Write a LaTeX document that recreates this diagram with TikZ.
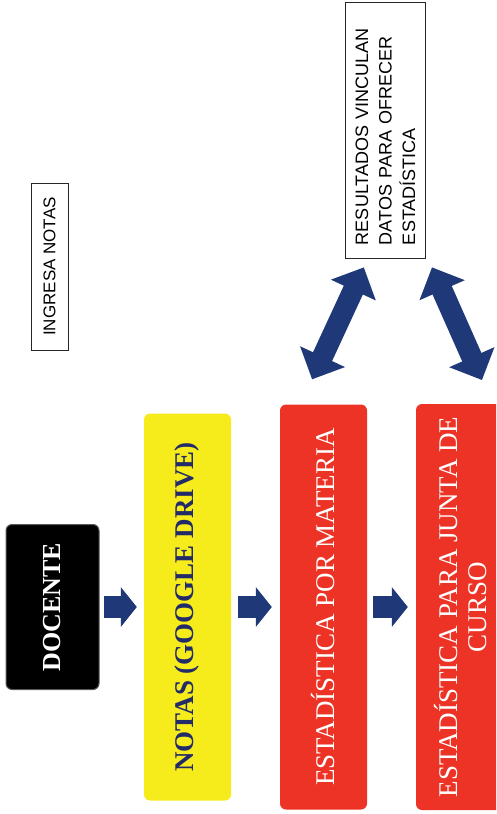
\documentclass[tikz,border=0pt]{standalone}
\usepackage{fontspec}
\setmainfont{Liberation Serif}
\newfontfamily\notefont{Liberation Sans}
\definecolor{arrowNavy}{RGB}{31, 56, 120}
\definecolor{textNavy}{RGB}{34, 42, 104}
\definecolor{driveYellow}{RGB}{246, 236, 28}
\definecolor{statRed}{RGB}{236, 51, 38}
\usetikzlibrary{arrows.meta,calc}

\begin{document}
\begin{tikzpicture}[x=1pt,y=-1pt,
        stepbox/.style={rotate=90,rounded corners=6pt,inner sep=4pt,align=center},
        notebox/.style={rotate=90,draw=black!85,line width=0.8pt,fill=white,text=black,
                        font=\notefont\fontsize{18}{23.5}\selectfont},
        flowarrow/.style={arrowNavy,line width=22pt,-{Triangle[length=16pt,width=39pt]}},
        linkarrow/.style={arrowNavy,line width=21pt,
                        {Triangle[length=25pt,width=48pt]}-{Triangle[length=25pt,width=48pt]}}
    ]
    \useasboundingbox (0,0) rectangle (496,814);
    \clip (0,0) rectangle (496,814);

    \node[stepbox,fill=black,draw=black!65,line width=1pt,text=white,minimum width=165pt,minimum height=93pt,
          font=\bfseries\fontsize{26}{28}\selectfont] (docente) at (52.5,607) {DOCENTE};
    \node[stepbox,fill=driveYellow,text=textNavy,minimum width=387pt,minimum height=87pt,
          font=\bfseries\fontsize{27}{29}\selectfont] (notas) at (187.5,607) {NOTAS (GOOGLE DRIVE)};
    \node[stepbox,fill=statRed,text=white,minimum width=405pt,minimum height=87pt,
          font=\fontsize{27}{29}\selectfont] (materia) at (323.5,607) {ESTADÍSTICA POR MATERIA};
    \node[stepbox,fill=statRed,text=white,minimum width=406pt,minimum height=89pt,
          font=\fontsize{27}{29}\selectfont] (junta) at (460.5,607) {ESTADÍSTICA PARA JUNTA DE\\CURSO};

    \node[notebox,font=\notefont\fontsize{17}{20}\selectfont,minimum width=167pt,minimum height=37pt,
          inner sep=0pt] (ingresa) at (49.5,266.5) {INGRESA NOTAS};
    \node[notebox,text width=230pt,inner xsep=13pt,minimum height=80pt,align=left]
          (resultados) at (385.5,130) {RESULTADOS VINCULAN\\DATOS PARA OFRECER\\ESTADÍSTICA};

    \draw[flowarrow,shorten <=4pt,shorten >=7pt] (docente) -- (notas);
    \draw[flowarrow,shorten <=7pt,shorten >=8pt] (notas) -- (materia);
    \draw[flowarrow,shorten <=6pt,shorten >=8pt] (materia) -- (junta);

    \draw[linkarrow,shorten <=27.5pt,shorten >=9.9pt] ([xshift=-23pt]materia.east) -- ([xshift=-17.5pt]resultados.west);
    \draw[linkarrow,shorten <=9.8pt,shorten >=26pt] ([xshift=42.5pt]resultados.west) -- ([xshift=32pt]junta.east);
\end{tikzpicture}
\end{document}
